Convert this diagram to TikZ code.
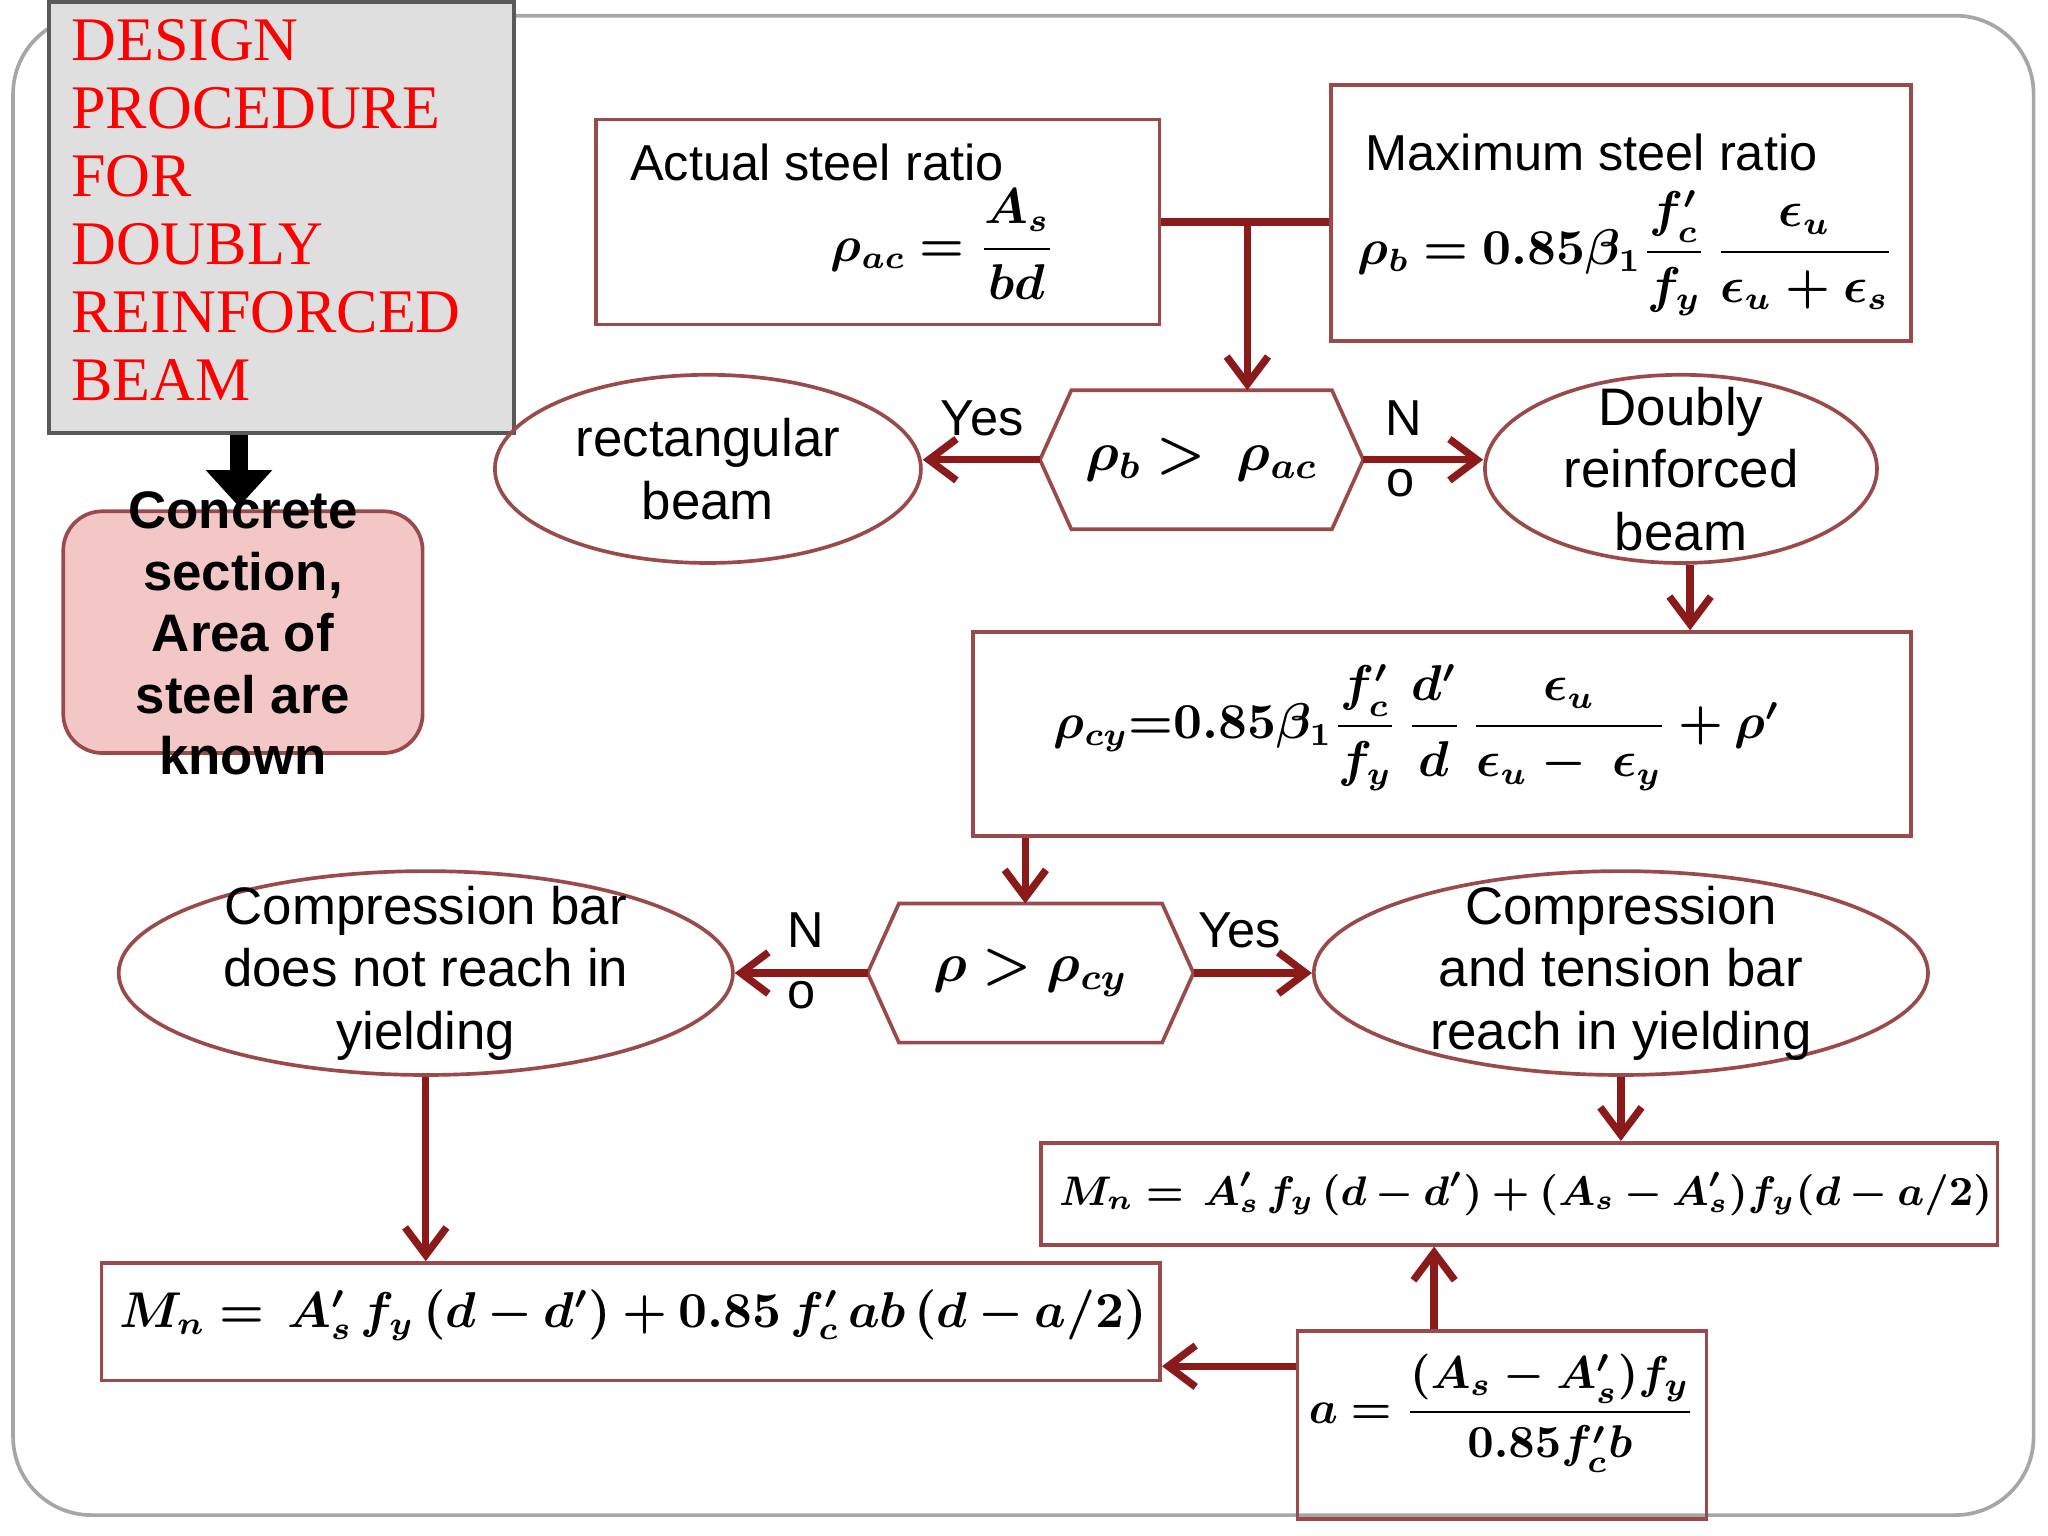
\documentclass[tikz,border=0pt]{standalone}
\usepackage{amsmath,bm}
\usepackage{fontspec}
\setmainfont{Liberation Sans}
\newfontfamily\titlefont{Liberation Serif}
\usetikzlibrary{shapes.geometric,arrows.meta}
\definecolor{arr}{HTML}{8B1A1A}
\definecolor{bord}{HTML}{9A4A4A}
\definecolor{pinkf}{HTML}{F4C7C7}
\begin{document}
\begin{tikzpicture}[x=0.01cm,y=-0.01cm,
 box/.style={draw=bord,line width=0.8pt,minimum width=#1,inner sep=0},
 ell/.style={ellipse,draw=bord,line width=0.8pt,inner sep=0},
 etxt/.style={align=center,font=\fontsize{11.5}{13.6}\selectfont},
 hexbox/.style={minimum width=2.46cm,minimum height=1.05cm,inner sep=0},
 hexd/.style={draw=bord,line width=0.8pt},
 con/.style={draw=arr,line width=1.6pt,-{Straight Barb[length=6pt,width=9pt]}},
 lab/.style={font=\fontsize{11}{13}\selectfont},
 fm/.style={font=\fontsize{10.5}{12}\selectfont}]
\useasboundingbox (0,0) rectangle (1568,1176);
\draw[gray!70,line width=0.8pt,rounded corners=0.6cm] (10,12) rectangle (1557,1160);
% title
\node[draw=gray!70!black,line width=0.8pt,fill=gray!25,minimum width=3.56cm,minimum height=3.3cm,anchor=north west] (title) at (36,0) {};
\node[anchor=north west,align=left,text=red,font=\titlefont\fontsize{13.5}{14.8}\selectfont,inner sep=0] (ttext) at (54,14) {DESIGN\\PROCEDURE\\FOR\\DOUBLY\\REINFORCED\\BEAM};
\node[draw=bord,fill=pinkf,rounded corners=0.3cm,minimum width=2.75cm,minimum height=1.85cm,line width=0.8pt] (conc) at (186,484) {};
\node[align=center,font=\bfseries\fontsize{11.5}{13.4}\selectfont] (conct) at (186,485) {Concrete\\section,\\Area of\\steel are\\known};
\draw[black,line width=4pt,-{Triangle[length=8pt,width=14pt]}] (title.south -| 183,0) -- (183,388);
% top boxes
\node[box=4.31cm,minimum height=1.57cm] (A) at (672,170) {};
\node[lab,anchor=west] at (470,124) {Actual steel ratio};
\node[fm] at (722,187) {$\bm{\rho_{ac}=\dfrac{A_s}{bd}}$};
\node[box=4.44cm,minimum height=1.96cm] (B) at (1241,163) {};
\node[lab,anchor=west] at (1033,117) {Maximum steel ratio};
\node[fm] at (1245,194) {$\bm{\rho_b=0.85\beta_1\dfrac{f_c'}{f_y}\,\dfrac{\epsilon_u}{\epsilon_u+\epsilon_s}}$};
\coordinate (j) at (955,170);
\draw[draw=arr,line width=1.6pt] (A.east |- j) -- (B.west |- j);
\node[hexbox] (H1) at (920,352) {\fontsize{12}{14}\selectfont$\bm{\rho_b>\ \rho_{ac}}$};
\draw[hexd] (H1.west) -- ([xshift=0.24cm]H1.north west) -- ([xshift=-0.24cm]H1.north east) -- (H1.east) -- ([xshift=-0.24cm]H1.south east) -- ([xshift=0.24cm]H1.south west) -- cycle;
\draw[con] (j) -- (H1.north -| j);
\node[ell,minimum width=3.26cm,minimum height=1.44cm] (E1) at (542,359) {};
\node[etxt] at (E1) {rectangular\\beam};
\node[ell,minimum width=3.0cm,minimum height=1.44cm] (E2) at (1287,359) {};
\node[etxt] at (E2) {Doubly\\reinforced\\beam};
\draw[con] (H1.west) -- (E1.east |- H1.west);
\draw[con] (H1.east) -- (E2.west |- H1.east);
\node[lab] at (752,320) {Yes};
\node[lab] at (1075,320) {N};
\node[lab] at (1072,370) {o};
\node[box=7.18cm,minimum height=1.56cm] (C) at (1104,562) {};
\node[fm] at (1085,557) {$\bm{\rho_{cy}{=}0.85\beta_1\dfrac{f_c'}{f_y}\,\dfrac{d'}{d}\,\dfrac{\epsilon_u}{\epsilon_u-\ \epsilon_y}+\rho'}$};
\draw[con] (E2.south -| 1294,0) -- (C.north -| 1294,0);
\node[hexbox,minimum width=2.48cm] (H2) at (789,745) {\fontsize{12}{14}\selectfont$\bm{\rho>\rho_{cy}}$};
\draw[hexd] (H2.west) -- ([xshift=0.24cm]H2.north west) -- ([xshift=-0.24cm]H2.north east) -- (H2.east) -- ([xshift=-0.24cm]H2.south east) -- ([xshift=0.24cm]H2.south west) -- cycle;
\draw[con] (C.south -| 785,0) -- (H2.north -| 785,0);
\node[ell,minimum width=4.7cm,minimum height=1.56cm] (E3) at (326,745) {};
\node[etxt] at (E3) {Compression bar\\does not reach in\\yielding};
\node[ell,minimum width=4.7cm,minimum height=1.56cm] (E4) at (1241,745) {};
\node[etxt] at (E4) {Compression\\and tension bar\\reach in yielding};
\draw[con] (H2.west) -- (E3.east);
\draw[con] (H2.east) -- (E4.west);
\node[lab] at (617,712) {N};
\node[lab] at (614,762) {o};
\node[lab] at (949,712) {Yes};
\node[box=7.32cm,minimum height=0.78cm] (D) at (1163,914) {};
\node[font=\fontsize{9.2}{12}\selectfont] at (1168,914) {$\bm{M_n=\,A_s'\,f_y\,(d-d')+(A_s-A_s')f_y(d-a/2)}$};
\draw[con] (E4.south) -- (D.north -| E4.south);
\node[box=8.1cm,minimum height=0.9cm] (Eb) at (483,1012) {};
\node[fm] at (485,1007) {$\bm{M_n=\,A_s'\,f_y\,(d-d')+0.85\,f_c'\,ab\,(d-a/2)}$};
\draw[con] (E3.south) -- (Eb.north -| E3.south);
\node[box=3.13cm,minimum height=1.44cm] (F) at (1150,1091) {};
\node[font=\fontsize{9.8}{12}\selectfont] at (1150,1082) {$\bm{a=\dfrac{(A_s-A_s')f_y}{0.85f_c'b}}$};
\draw[con] (F.west |- 0,1046) -- (Eb.east |- 0,1046);
\draw[con] (F.north -| 1098,0) -- (D.south -| 1098,0);
\end{tikzpicture}
\end{document}
